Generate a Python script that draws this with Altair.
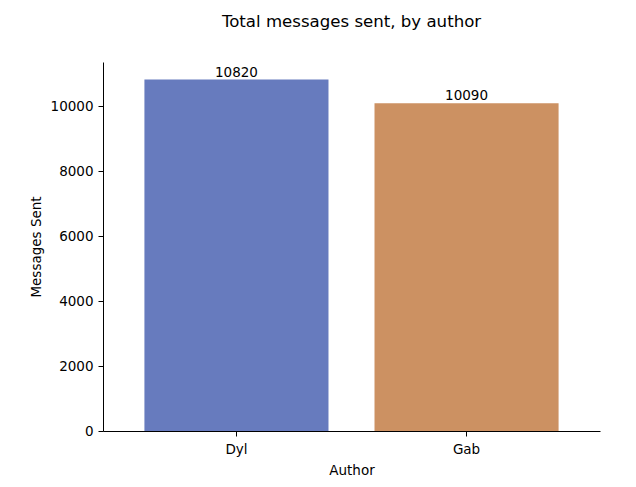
import altair as alt
import pandas as pd

authors = ["Dyl", "Gab"]
messages = [10820, 10090]
colors = ["#677BBE", "#CC9162"]

df = pd.DataFrame({"Author": authors, "Messages Sent": messages})

FONT = "DejaVu Sans"
FS = 13.5

x = alt.X("Author:N", sort=authors,
          scale=alt.Scale(paddingInner=0.2, paddingOuter=0.18),
          axis=alt.Axis(labelAngle=0, title="Author", labelFontSize=FS, titleFontSize=FS,
                        titleFontWeight="normal", labelPadding=6, titlePadding=8,
                        tickSize=5, domainColor="black", tickColor="black",
                        labelColor="black", titleColor="black", labelFont=FONT, titleFont=FONT))

bars = alt.Chart(df).mark_bar(strokeWidth=0).encode(
    x=x,
    y=alt.Y("Messages Sent:Q", scale=alt.Scale(domain=[0, 11361], nice=False),
            axis=alt.Axis(values=[0, 2000, 4000, 6000, 8000, 10000], format="d", grid=False,
                          labelFontSize=FS, titleFontSize=FS, titleFontWeight="normal",
                          tickSize=5, labelPadding=5, titlePadding=7,
                          domainColor="black", tickColor="black",
                          labelColor="black", titleColor="black", labelFont=FONT, titleFont=FONT)),
    color=alt.Color("Author:N", scale=alt.Scale(domain=authors, range=colors), legend=None),
)

labels = alt.Chart(df).mark_text(baseline="bottom", dy=0, fontSize=FS, font=FONT, color="black").encode(
    x=alt.X("Author:N", sort=authors),
    y=alt.Y("Messages Sent:Q"),
    text=alt.Text("Messages Sent:Q", format="d"),
)

chart = (bars + labels).properties(
    width=497, height=369,
    title=alt.TitleParams("Total messages sent, by author", fontSize=16.6, font=FONT,
                          fontWeight="normal", color="black", offset=31, anchor="middle"),
    autosize=alt.AutoSizeParams(type="none"),
    padding={"left": 95, "top": 54, "right": 28, "bottom": 48},
).configure(background="white").configure_view(strokeWidth=0, stroke=None)

chart.save("out.html", embed_options={"renderer": "svg", "actions": False})
